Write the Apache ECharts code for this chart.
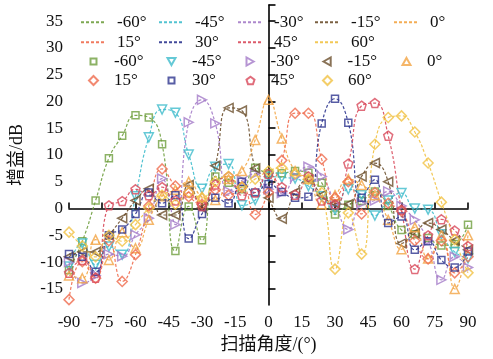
<!DOCTYPE html>
<html><head><meta charset="utf-8">
<script src="https://cdn.jsdelivr.net/npm/echarts@6/dist/echarts.min.js"></script>
<style>html,body{margin:0;padding:0;background:#fff}#c{width:493px;height:359px}</style>
</head><body><div id="c"></div>
<script>
// scan angles (deg) at which markers are sampled
const angles = [-90,-84,-78,-72,-66,-60,-54,-48,-42,-36,-30,-24,-18,-12,-6,0,6,12,18,24,30,36,42,48,54,60,66,72,78,84,90];
const seriesNames = ['-60°','-45°','-30°','-15°','0°','15°','30°','45°','60°'];
// gain (dB) per steering angle
const gainM60 = [-11.5,-6.1,1.5,9.4,13.6,17.4,17.0,12.0,-7.9,0.4,-5.9,6.0,4.8,3.6,7.6,6.6,6.6,7.0,6.7,4.8,-1.1,0.7,1.4,3.2,0.5,-4.0,-4.8,-5.5,-6.9,-6.6,-3.0];
const gainM45 = [-10.8,-6.5,-10.5,-7.1,-8.6,2.3,13.3,18.5,17.9,10.1,3.7,7.8,8.3,0.6,1.6,6.0,5.8,5.6,4.2,2.3,-0.2,3.6,2.5,-1.3,1.5,2.9,0.0,-0.2,-4.8,-8.1,-9.3];
const gainM30 = [-10.0,-13.9,-12.5,-8.5,-8.9,-4.9,-1.8,5.6,-3.0,16.1,20.3,15.9,3.2,5.3,6.5,3.6,2.9,6.0,7.8,6.0,1.0,-3.9,1.0,1.5,3.2,0.5,-2.1,-6.0,-13.3,-9.0,-11.0];
const gainM15 = [-9.0,-8.1,-8.1,-5.0,-1.8,1.5,3.7,-1.2,-1.2,4.4,0.1,8.0,18.8,18.3,7.5,2.0,-1.9,3.0,5.4,2.5,1.0,0.8,6.0,8.5,5.0,-6.5,-4.6,-2.7,-3.9,-6.0,-7.7];
const gain0   = [-12.5,-13.0,-5.8,-9.6,-4.4,-7.4,-2.1,2.3,3.5,5.0,2.2,1.6,5.5,7.0,12.8,20.3,13.1,7.0,5.5,0.8,2.5,5.5,4.4,2.5,-2.1,-7.6,-3.5,-9.3,-5.0,-15.0,-5.0];
const gainP15 = [-17.0,-9.9,-13.0,-6.0,-13.6,-8.6,0.5,7.4,4.2,2.2,0.8,3.5,2.5,4.0,-1.1,3.0,9.0,17.8,17.8,9.2,2.0,5.0,-1.0,3.0,1.0,-0.5,-6.0,-9.4,-6.0,-12.0,-9.0];
const gainP30 = [-8.5,-9.0,-11.8,-5.0,-3.9,-1.0,3.0,1.0,2.5,-5.6,-1.0,2.0,1.0,5.0,3.0,4.6,3.1,2.0,2.2,15.9,20.5,16.0,2.0,5.4,-2.7,-1.5,-7.7,-6.1,-9.6,-11.0,-8.0];
const gainP45 = [-12.0,-9.6,-12.9,0.6,1.4,3.6,2.5,4.0,1.5,3.0,0.5,4.5,6.0,2.5,3.0,6.5,4.0,2.6,6.0,1.5,0.8,8.4,19.2,19.7,13.6,-0.2,-11.3,-5.0,-2.0,-4.1,-7.0];
const gainP60 = [-4.4,-7.0,-9.0,-5.0,-6.1,-3.0,0.1,2.5,0.8,3.0,2.0,5.0,6.0,4.0,5.5,7.0,7.6,6.5,5.5,3.0,-11.3,-0.8,-8.5,12.0,17.0,17.3,14.3,8.5,1.2,-5.8,-12.0];
const xTicks = [-90,-75,-60,-45,-30,-15,0,15,30,45,60,75,90];
const yTicks = [-15,-10,-5,0,5,10,15,20,25,30,35];

const allGains = [gainM60,gainM45,gainM30,gainM15,gain0,gainP15,gainP30,gainP45,gainP60];
const colors = ['#6f9f3f','#3fbccc','#a47bc8','#6b4f2c','#f2a443','#ef6b4e','#2e358f','#d8495a','#f1c244'];
const triUp = 'path://M0,-10L10,8L-10,8Z';
const triDown = 'path://M0,10L10,-8L-10,-8Z';
const triRight = 'path://M10,0L-8,-10L-8,10Z';
const triLeft = 'path://M-10,0L8,-10L8,10Z';
const pentagon = 'path://M0,-10L9.51,-3.09L5.88,8.09L-5.88,8.09L-9.51,-3.09Z';
const symbols = ['rect',triDown,triRight,triLeft,triUp,'diamond','rect',pentagon,'diamond'];
const sizes = [7,9,9,9,9,10,7,9,10];

const FONT = '"Liberation Serif","Noto Sans CJK SC",serif';
const series = [];
seriesNames.forEach((n,i)=>{
  const pts = angles.map((a,k)=>[a, allGains[i][k]]);
  series.push({type:'line', name:'L'+n, data:pts, smooth:0.5, symbol:'none', z:2,
    lineStyle:{type:[3,2], width:1.2, color:colors[i], opacity:0.9}, itemStyle:{color:colors[i]}});
});
seriesNames.forEach((n,i)=>{
  const pts = angles.map((a,k)=>[a, allGains[i][k]]);
  series.push({type:'scatter', name:'S'+n, data:pts, symbol:symbols[i], symbolSize:sizes[i], z:3,
    itemStyle:{color:'rgba(0,0,0,0)', borderColor:colors[i], borderWidth:1.5}});
});

const legends = [];
const colX = [80,158,237,314,393];
const rowY = [21.7,41.7,61,80];
seriesNames.forEach((n,i)=>{
  const col = i<5 ? i : i-5;
  const rLine = i<5 ? 0 : 1;
  const rSym = i<5 ? 2 : 3;
  const s = sizes[i]-1;
  legends.push({data:['L'+n], left:colX[col], top:rowY[rLine]-8, padding:0, itemWidth:23, itemHeight:10,
    itemStyle:{opacity:0},
    formatter:t=>t.slice(1), textStyle:{fontFamily:FONT, fontSize:17, lineHeight:16, color:'#111', padding:[0,0,0,8]}, selectedMode:false});
  legends.push({data:['S'+n], left:colX[col]+12.5-s/2, top:rowY[rSym]-8, padding:0, itemWidth:s, itemHeight:s,
    formatter:t=>t.slice(1), textStyle:{fontFamily:FONT, fontSize:17, lineHeight:16, color:'#111', padding:[0,0,0,23-12.5-s/2+5]}, selectedMode:false});
});

const chart = echarts.init(document.getElementById('c'), null, {renderer:'canvas'});
chart.setOption({
  animation:false,
  backgroundColor:'#fff',
  grid:{left:63, right:25, top:5, bottom:54},
  legend:legends,
  xAxis:{type:'value', min:-90, max:90, interval:15,
    name:'扫描角度/(°)', nameLocation:'middle', nameGap:31,
    nameTextStyle:{fontFamily:FONT, fontSize:18, color:'#111'},
    axisLine:{lineStyle:{color:'#000', width:1.6}},
    axisTick:{inside:true, length:6, lineStyle:{color:'#000', width:1.6}},
    axisLabel:{fontFamily:FONT, fontSize:17, color:'#111', margin:9, customValues:xTicks},
    splitLine:{show:false}},
  yAxis:{type:'value', min:-18, max:38,
    name:'增益/dB', nameLocation:'middle', nameGap:43, nameRotate:90,
    nameTextStyle:{fontFamily:FONT, fontSize:18, color:'#111'},
    axisLine:{lineStyle:{color:'#000', width:1.6}},
    axisTick:{inside:true, length:7, lineStyle:{color:'#000', width:1.6}, customValues:yTicks.concat([38])},
    axisLabel:{fontFamily:FONT, fontSize:17, color:'#111', margin:6, customValues:yTicks},
    splitLine:{show:false}},
  series:series
});
</script></body></html>
